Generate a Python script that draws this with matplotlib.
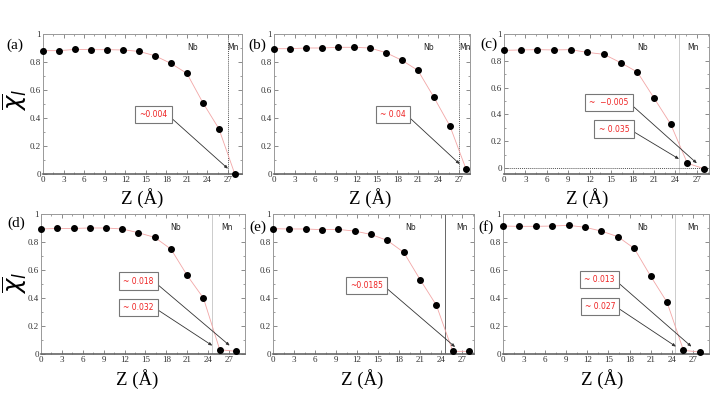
import numpy as np
import matplotlib
matplotlib.use("Agg")
import matplotlib.pyplot as plt
from matplotlib.ticker import MultipleLocator

# ---- data ----
z = [0, 2.33, 4.67, 7, 9.33, 11.67, 14, 16.33, 18.67, 21, 23.33, 25.67, 28]
chi_a = [0.881, 0.881, 0.890, 0.888, 0.888, 0.886, 0.876, 0.845, 0.790, 0.719, 0.510, 0.324, 0.0]
chi_b = [0.895, 0.895, 0.900, 0.900, 0.905, 0.905, 0.900, 0.867, 0.812, 0.740, 0.548, 0.343, 0.038]
chi_c = [0.878, 0.881, 0.883, 0.881, 0.883, 0.863, 0.848, 0.786, 0.716, 0.522, 0.328, 0.035, -0.005]
chi_d = [0.893, 0.897, 0.897, 0.900, 0.900, 0.893, 0.866, 0.833, 0.749, 0.561, 0.399, 0.031, 0.019]
chi_e = [0.895, 0.893, 0.893, 0.888, 0.890, 0.878, 0.854, 0.811, 0.726, 0.532, 0.348, 0.019, 0.019]
chi_f = [0.914, 0.912, 0.912, 0.914, 0.919, 0.905, 0.878, 0.838, 0.754, 0.556, 0.370, 0.026, 0.014]
series = [chi_a, chi_b, chi_c, chi_d, chi_e, chi_f]
panel_tags = ["(a)", "(b)", "(c)", "(d)", "(e)", "(f)"]
interface = [27, 27, 24.5, 24.5, 24.5, 24.5]
# annotation text, box centre (x, y), arrow tip (x, y)
notes = [
    [("~0.004", (16.1, 0.425), (27.0, 0.038))],
    [("~ 0.04", (17.4, 0.425), (27.1, 0.071))],
    [("~  \u22120.005", (14.7, 0.49), (27.0, 0.035)), ("~ 0.035", (15.4, 0.29), (24.5, 0.067))],
    [("~ 0.018", (14.0, 0.52), (27.1, 0.06)), ("~ 0.032", (14.0, 0.334), (24.6, 0.06))],
    [("~0.0185", (13.4, 0.49), (26.0, 0.05))],
    [("~ 0.013", (13.7, 0.532), (26.8, 0.053)), ("~ 0.027", (13.8, 0.341), (24.6, 0.053))],
]
nb_x = [21.9, 22.6, 19.4, 19.3, 19.6, 19.9]
mn_x = [27.8, 27.9, 26.5, 26.7, 27.0, 27.0]

W, H = 714, 399
# axes boxes in pixels: left, right, top, bottom
boxes = [(43, 242, 34, 174), (274, 470, 34, 174), (504, 709, 34, 174),
         (41, 245, 214, 354), (273, 474, 214, 354), (503, 709, 214, 354)]
xmax = [29.05, 28.6, 28.7, 29.3, 28.7, 29.3]
ymin = [0, 0, -0.045, 0, 0, 0]
tag_pos = [(15, 45), (257, 45), (489, 44), (16, 223), (258, 227), (486, 227)]
xlab_pos = [(142, 198), (370, 198), (587, 198), (137, 379), (362, 379), (602, 379)]

serif = "Liberation Serif"
fig = plt.figure(figsize=(W / 100, H / 100), dpi=100)

for i in range(6):
    l, r, t, b = boxes[i]
    ax = fig.add_axes([l / W, 1 - b / H, (r - l) / W, (b - t) / H])
    ax.plot(z, series[i], "-", color="#f2a6a6", lw=0.6, zorder=2)
    ax.plot(z, series[i], "o", color="black", ms=4.0, zorder=4, clip_on=False)
    ax.set_xlim(0, xmax[i])
    ax.set_ylim(ymin[i], 1)
    ax.xaxis.set_major_locator(MultipleLocator(3))
    ax.xaxis.set_minor_locator(MultipleLocator(1.5))
    ax.yaxis.set_minor_locator(MultipleLocator(0.1))
    ax.set_yticks([0, 0.2, 0.4, 0.6, 0.8, 1])
    ax.set_yticklabels(["0", "0.2", "0.4", "0.6", "0.8", "1"])
    ax.tick_params(which="both", direction="in", top=True, right=True,
                   labelsize=6.5, pad=1.5, color="#777777")
    ax.tick_params(which="major", length=3, width=0.6)
    ax.tick_params(which="minor", length=1.5, width=0.5)
    for lab in ax.get_xticklabels() + ax.get_yticklabels():
        lab.set_fontfamily(serif)
        lab.set_color("#333333")
    for s in ax.spines.values():
        s.set_color("#999999")
        s.set_linewidth(0.7)
    ax.spines["bottom"].set_color("#666666")
    ax.spines["bottom"].set_linewidth(1.2)

    if i < 2:
        ax.axvline(interface[i], color="#555555", lw=0.7, ls=(0, (1, 1)), zorder=1)
    elif i == 4:
        ax.axvline(interface[i], color="#666666", lw=0.7, zorder=1)
    else:
        ax.axvline(interface[i], color="#cccccc", lw=0.7, zorder=1)
    if i == 2:
        ax.axhline(0, color="#555555", lw=0.7, ls=(0, (1, 1)), zorder=1)

    ax.text(nb_x[i], 0.9, "Nb", fontsize=5.5, ha="center", va="center",
            family="DejaVu Sans", color="#222222")
    ax.text(mn_x[i], 0.9, "Mn", fontsize=5.5, ha="center", va="center",
            family="DejaVu Sans", color="#222222")

    for txt, (bx, by), (tx, ty) in notes[i]:
        ax.annotate(txt, xy=(tx, ty), xytext=(bx, by), textcoords="data",
                    fontsize=5.5, color="#ee2222", ha="center", va="center",
                    family="DejaVu Sans", zorder=5,
                    bbox=dict(boxstyle="square,pad=0.55", fc="white",
                              ec="#777777", lw=0.8),
                    arrowprops=dict(arrowstyle="-|>,head_length=0.35,head_width=0.15",
                                    color="#333333", lw=0.6, shrinkA=0, shrinkB=0,
                                    relpos=(1, 0.5)))

    fig.text(tag_pos[i][0] / W, 1 - tag_pos[i][1] / H, panel_tags[i],
             fontsize=11, family=serif, ha="center", va="center")
    fig.text(xlab_pos[i][0] / W, 1 - xlab_pos[i][1] / H, "Z (\u00c5)",
             fontsize=13.5, family=serif, ha="center", va="center")

for xc, yc in ((15, 100), (15, 283)):
    fig.text(xc / W, 1 - yc / H, r"$\overline{\chi}_l$", fontsize=17.5,
             rotation=90, ha="center", va="center")

fig.savefig("out.png", dpi=100)
